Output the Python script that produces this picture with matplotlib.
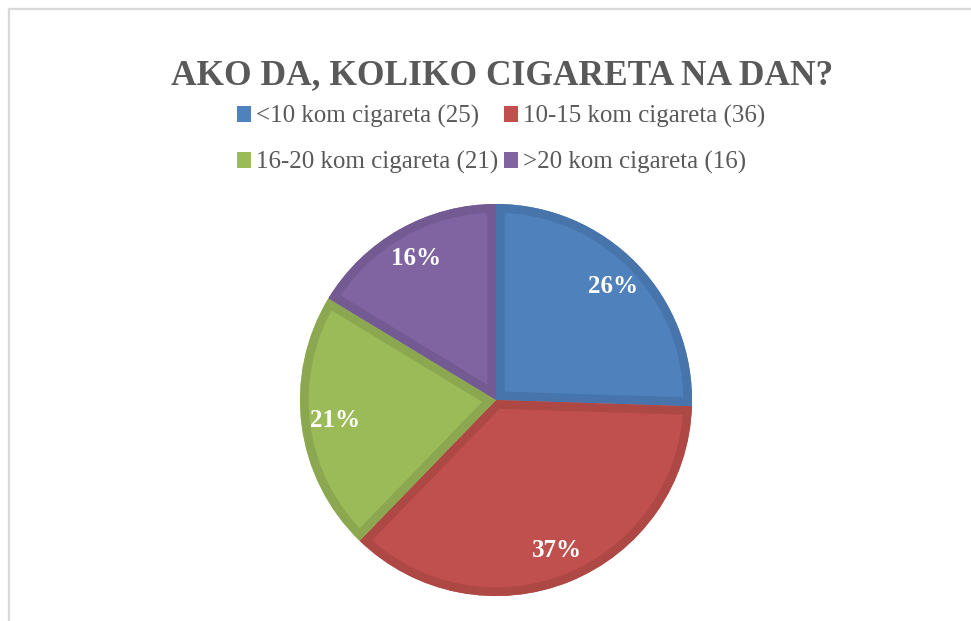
import matplotlib
matplotlib.use("Agg")
import matplotlib.pyplot as plt
from matplotlib.patches import Patch, Wedge
from matplotlib.lines import Line2D

title = "AKO DA, KOLIKO CIGARETA NA DAN?"
categories = ["<10 kom cigareta", "10-15 kom cigareta", "16-20 kom cigareta", ">20 kom cigareta"]
values = [25, 36, 21, 16]
colors = ["#4F81BD", "#C0504D", "#9BBB59", "#8064A2"]
edge_colors = ["#4674AB", "#AD4845", "#8BA850", "#735A92"]

W, H = 971, 621
fig = plt.figure(figsize=(W / 100, H / 100), dpi=100)
fig.patch.set_facecolor("white")

# chart frame (left and top edges visible)
fx, fy = 8.5 / W, 1 - 8.5 / H
fig.add_artist(Line2D([fx, fx], [0, fy], transform=fig.transFigure, color="#D9D9D9", lw=1.6))
fig.add_artist(Line2D([fx, 1], [fy, fy], transform=fig.transFigure, color="#D9D9D9", lw=1.6))

cx, cy, r = 496, 400, 196
ax = fig.add_axes([(cx - r) / W, (H - cy - r) / H, 2 * r / W, 2 * r / H])
wedges, texts, autotexts = ax.pie(
    values, colors=colors, startangle=90, counterclock=False,
    autopct=lambda p: f"{p:.0f}%", pctdistance=0.83,
    wedgeprops=dict(linewidth=0),
    textprops=dict(color="white", fontsize=18, fontweight="bold", family="Liberation Serif"),
)
ax.set_xlim(-1, 1)
ax.set_ylim(-1, 1)
ax.set_aspect("equal")
ax.axis("off")

# inner darker rim on every slice: stroke clipped to the slice itself
for w, ec in zip(wedges, edge_colors):
    rim = Wedge(w.center, w.r, w.theta1, w.theta2,
                facecolor="none", edgecolor=ec, linewidth=12.5)
    ax.add_patch(rim)
    rim.set_clip_path(w.get_path(), w.get_transform())
    rim.set_clip_on(True)
for t in autotexts:
    t.set_zorder(5)

fig.text(502 / W, 1 - 76 / H, title, ha="center", va="center", fontsize=25.5,
         fontweight="bold", color="#595959", family="Liberation Serif")

handles = [Patch(facecolor=c, edgecolor="none") for c in colors]
labels = [f"{c} ({v})" for c, v in zip(categories, values)]
order = [0, 2, 1, 3]  # fill legend row by row
fig.legend([handles[i] for i in order], [labels[i] for i in order],
           loc="center", bbox_to_anchor=(501 / W, 1 - 139.5 / H),
           ncol=2, frameon=False, handlelength=0.58, handleheight=0.58,
           handletextpad=0.2, columnspacing=0.2, labelspacing=0.92,
           prop=dict(family="Liberation Serif", size=18), labelcolor="#595959")

fig.savefig("out.png", dpi=100, facecolor="white")
